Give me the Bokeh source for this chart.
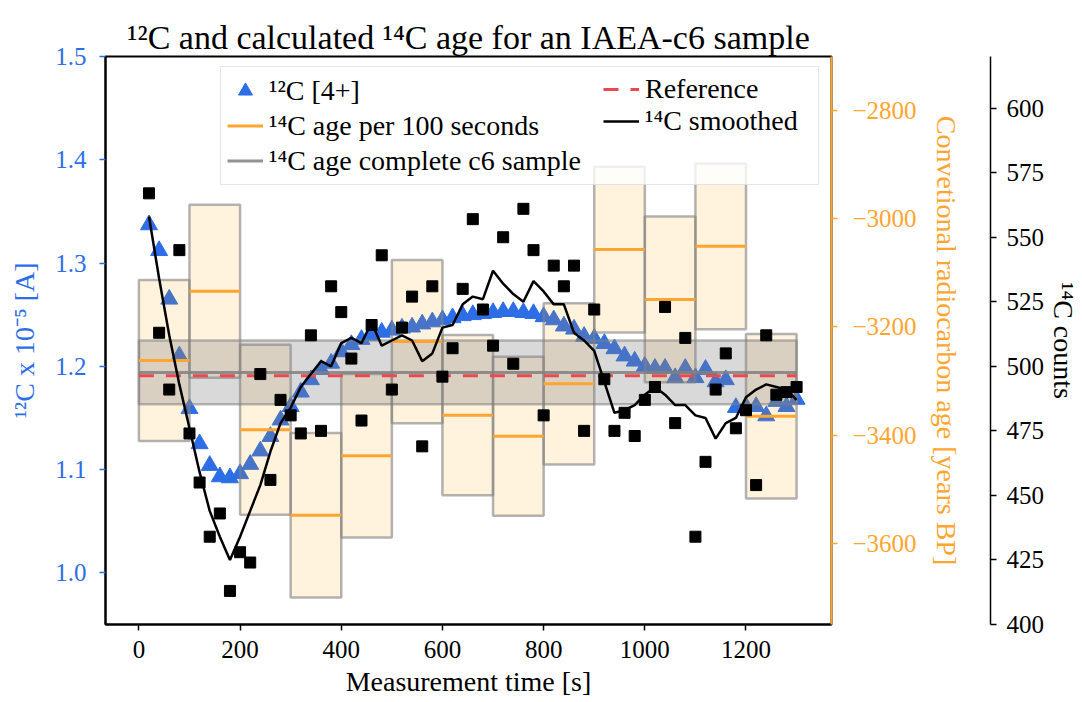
from bokeh.plotting import figure
from bokeh.models import (Range1d, LinearAxis, FixedTicker, Legend, LegendItem,
                          PrintfTickFormatter, CustomJSTickFormatter)
from bokeh.embed import file_html
from bokeh.resources import INLINE

# ---------------- data ----------------
time_s = list(range(20, 1320, 20))

c12_current = [1.337, 1.312, 1.265, 1.210, 1.159, 1.125, 1.104, 1.093, 1.092, 1.096,
               1.105, 1.118, 1.132, 1.148, 1.161, 1.175, 1.187, 1.197, 1.203, 1.214,
               1.221, 1.226, 1.230, 1.233, 1.235, 1.237, 1.238, 1.241, 1.243, 1.245,
               1.247, 1.249, 1.250, 1.251, 1.252, 1.253, 1.253, 1.252, 1.251, 1.248,
               1.245, 1.239, 1.236, 1.229, 1.227, 1.222, 1.217, 1.210, 1.205, 1.200,
               1.198, 1.198, 1.189, 1.198, 1.189, 1.197, 1.185, 1.187, 1.160, 1.161,
               1.161, 1.152, 1.166, 1.161, 1.168]

c14_counts = [567, 513, 491, 545, 474, 455, 434, 443, 413, 428,
              424, 497, 456, 487, 481, 474, 512, 475, 531, 521,
              503, 479, 516, 543, 491, 515, 527, 469, 531, 496,
              507, 530, 557, 522, 508, 550, 501, 561, 545, 481,
              539, 531, 539, 475, 522, 495, 475, 482, 473, 487,
              492, 523, 478, 511, 434, 463, 491, 505, 476, 483,
              454, 512, 489, 490, 492]

c14_smoothed = [558, 534, 512, 493, 476, 459, 444, 434, 425, 434,
                444, 454, 467, 478, 484, 492, 497, 502, 500, 509,
                511, 509, 517, 508, 510, 512, 510, 502, 505, 515,
                516, 524, 527, 526, 537, 532, 528, 525, 533, 529,
                524, 524, 513, 510, 506, 494, 482, 483, 485, 489,
                492, 489, 485, 485, 481, 480, 472, 478, 480, 488,
                491, 493, 492, 491, 487]

bin_start = [0, 100, 200, 300, 400, 500, 600, 700, 800, 900, 1000, 1100, 1200]
bin_end = [100, 200, 300, 400, 500, 600, 700, 800, 900, 1000, 1100, 1200, 1300]
age_per_bin = [-3262, -3134, -3390, -3548, -3438, -3227, -3363, -3402, -3305,
               -3057, -3149, -3051, -3365]
age_per_bin_err = [149, 160, 157, 152, 151, 151, 148, 147, 149, 153, 153, 153, 152]

age_complete = -3284
age_complete_err = 59
age_reference = -3290
sample_span = [0, 1300]

x_ticks = [0, 200, 400, 600, 800, 1000, 1200]
left_ticks = [1.0, 1.1, 1.2, 1.3, 1.4, 1.5]
age_ticks = [-3600, -3400, -3200, -3000, -2800]
count_ticks = [400, 425, 450, 475, 500, 525, 550, 575, 600]

# ---------------- style / layout ----------------
FONT = "Liberation Serif"
BLUE = "#2d6ee6"
ORANGE = "#ffa530"
GRAY = "#808080"
RED = "#e84a4f"
TICK_FS = "25px"
LABEL_FS = "28px"

W, H = 1082, 702
FRAME_L, FRAME_R, FRAME_T, FRAME_B = 105, 831, 56, 624

p = figure(width=W, height=H,
           x_range=Range1d(-66, 1369), y_range=Range1d(0.95, 1.5),
           output_backend="svg", toolbar_location=None,
           min_border_left=FRAME_L, min_border_right=W - FRAME_R,
           min_border_top=FRAME_T, min_border_bottom=H - FRAME_B)
p.extra_y_ranges = {"age": Range1d(-3750, -2700), "counts": Range1d(400, 620)}

p.title.text = "¹²C and calculated ¹⁴C age for an IAEA-c6 sample"
p.title.align = "center"
p.title.text_font = FONT
p.title.text_font_size = "34px"
p.title.text_font_style = "normal"
p.title.text_color = "black"
p.title.standoff = 2

p.xgrid.visible = False
p.ygrid.visible = False
p.outline_line_color = "black"
p.outline_line_width = 2
p.background_fill_color = "white"
p.border_fill_color = "white"


def style_axis(ax, color, line_color, line_width=2):
    ax.axis_line_color = line_color
    ax.axis_line_width = line_width
    ax.major_tick_line_color = color
    ax.major_tick_line_width = 1.5
    ax.major_tick_out = 6
    ax.major_tick_in = 0
    ax.minor_tick_line_color = None
    ax.major_label_text_color = color
    ax.major_label_text_font = FONT
    ax.major_label_text_font_size = TICK_FS
    ax.axis_label_text_color = color
    ax.axis_label_text_font = FONT
    ax.axis_label_text_font_size = LABEL_FS
    ax.axis_label_text_font_style = "normal"


xa = p.xaxis[0]
style_axis(xa, "black", "black")
xa.ticker = FixedTicker(ticks=x_ticks)
xa.axis_label = "Measurement time [s]"
xa.major_label_standoff = 10
xa.axis_label_standoff = 5

ya = p.yaxis[0]
style_axis(ya, BLUE, "black")
ya.ticker = FixedTicker(ticks=left_ticks)
ya.formatter = PrintfTickFormatter(format="%.1f")
ya.axis_label = "¹²C x 10⁻⁵ [A]"
ya.major_label_standoff = 13
ya.axis_label_standoff = 12

minus_fmt = CustomJSTickFormatter(
    code="return (tick < 0 ? '\u2212' : '') + Math.abs(tick).toFixed(0);")

age_axis = LinearAxis(y_range_name="age", ticker=FixedTicker(ticks=age_ticks),
                      formatter=minus_fmt,
                      axis_label="Convetional radiocarbon age [years BP]")
style_axis(age_axis, ORANGE, ORANGE)
age_axis.major_label_standoff = 15
age_axis.axis_label_standoff = 11

# empty axis that only reserves the gap between the two right-hand axes
spacer = LinearAxis(y_range_name="counts", ticker=FixedTicker(ticks=[]),
                    axis_label=" ")
spacer.axis_line_color = None
spacer.major_tick_line_color = None
spacer.minor_tick_line_color = None
spacer.major_tick_out = 0
spacer.major_tick_in = 0
spacer.major_label_standoff = 0
spacer.major_label_text_font_size = "1px"
spacer.axis_label_text_font_size = "1px"
spacer.axis_label_standoff = 22

cnt_axis = LinearAxis(y_range_name="counts", ticker=FixedTicker(ticks=count_ticks),
                      axis_label="¹⁴C counts")
style_axis(cnt_axis, "black", "black", 1.5)
cnt_axis.major_label_standoff = 10
cnt_axis.axis_label_standoff = 1

p.add_layout(age_axis, "right")
p.add_layout(spacer, "right")
p.add_layout(cnt_axis, "right")

# ---------------- glyphs ----------------
tri = p.scatter(time_s, c12_current, marker="triangle", size=17,
                fill_color=BLUE, line_color=BLUE)

box_bottom = [a - e for a, e in zip(age_per_bin, age_per_bin_err)]
box_top = [a + e for a, e in zip(age_per_bin, age_per_bin_err)]
p.quad(left=bin_start, right=bin_end, bottom=box_bottom, top=box_top,
       y_range_name="age", fill_color="orange", fill_alpha=0.13,
       line_color=GRAY, line_alpha=0.6, line_width=2.5)

p.quad(left=[sample_span[0]], right=[sample_span[1]],
       bottom=[age_complete - age_complete_err], top=[age_complete + age_complete_err],
       y_range_name="age", fill_color=GRAY, fill_alpha=0.3,
       line_color=GRAY, line_alpha=0.55, line_width=2.5)

seg = p.segment(x0=bin_start, x1=bin_end, y0=age_per_bin, y1=age_per_bin,
                y_range_name="age", line_color=ORANGE, line_width=3)

cline = p.line(sample_span, [age_complete, age_complete], y_range_name="age",
               line_color=GRAY, line_width=3, line_alpha=0.85)

ref = p.line(sample_span, [age_reference, age_reference], y_range_name="age",
             line_color=RED, line_width=3, line_dash="15 12")

p.scatter(time_s, c14_counts, marker="square", size=11, y_range_name="counts",
          fill_color="black", line_color="black")

sm = p.line(time_s, c14_smoothed, y_range_name="counts", line_color="black",
            line_width=2.5)

# ---------------- legend (two columns sharing one box) ----------------
LEG_L, LEG_R = 220, 817
PAD, GW, STAND = 6, 36, 6


def make_legend(items, left, top, row, boxed, label_width):
    n = len(items)
    height = 2 * PAD + n * row
    lg = Legend(items=items, location=(left - FRAME_L, FRAME_B - (top + height)),
                orientation="vertical")
    lg.label_text_font = FONT
    lg.label_text_font_size = LABEL_FS
    lg.label_text_color = "black"
    lg.glyph_width = GW
    lg.glyph_height = row
    lg.label_height = row
    lg.label_width = label_width
    lg.label_standoff = STAND
    lg.spacing = 0
    lg.padding = PAD
    lg.margin = 0
    if boxed:
        lg.border_line_color = "#cccccc"
        lg.border_line_width = 1.5
        lg.background_fill_color = "white"
        lg.background_fill_alpha = 0.8
    else:
        lg.border_line_color = None
        lg.background_fill_alpha = 0.0
    return lg


leg1 = make_legend([
    LegendItem(label="¹²C [4+]", renderers=[tri]),
    LegendItem(label="¹⁴C age per 100 seconds", renderers=[seg]),
    LegendItem(label="¹⁴C age complete c6 sample", renderers=[cline]),
], LEG_L, 68, 35, True, (LEG_R - LEG_L) - 2 * PAD - GW - STAND)
leg2 = make_legend([
    LegendItem(label="Reference", renderers=[ref]),
    LegendItem(label="¹⁴C smoothed", renderers=[sm]),
], 603, 61, 32, False, 20)
p.add_layout(leg1)
p.add_layout(leg2)

open("out.html", "w").write(file_html(p, INLINE))
